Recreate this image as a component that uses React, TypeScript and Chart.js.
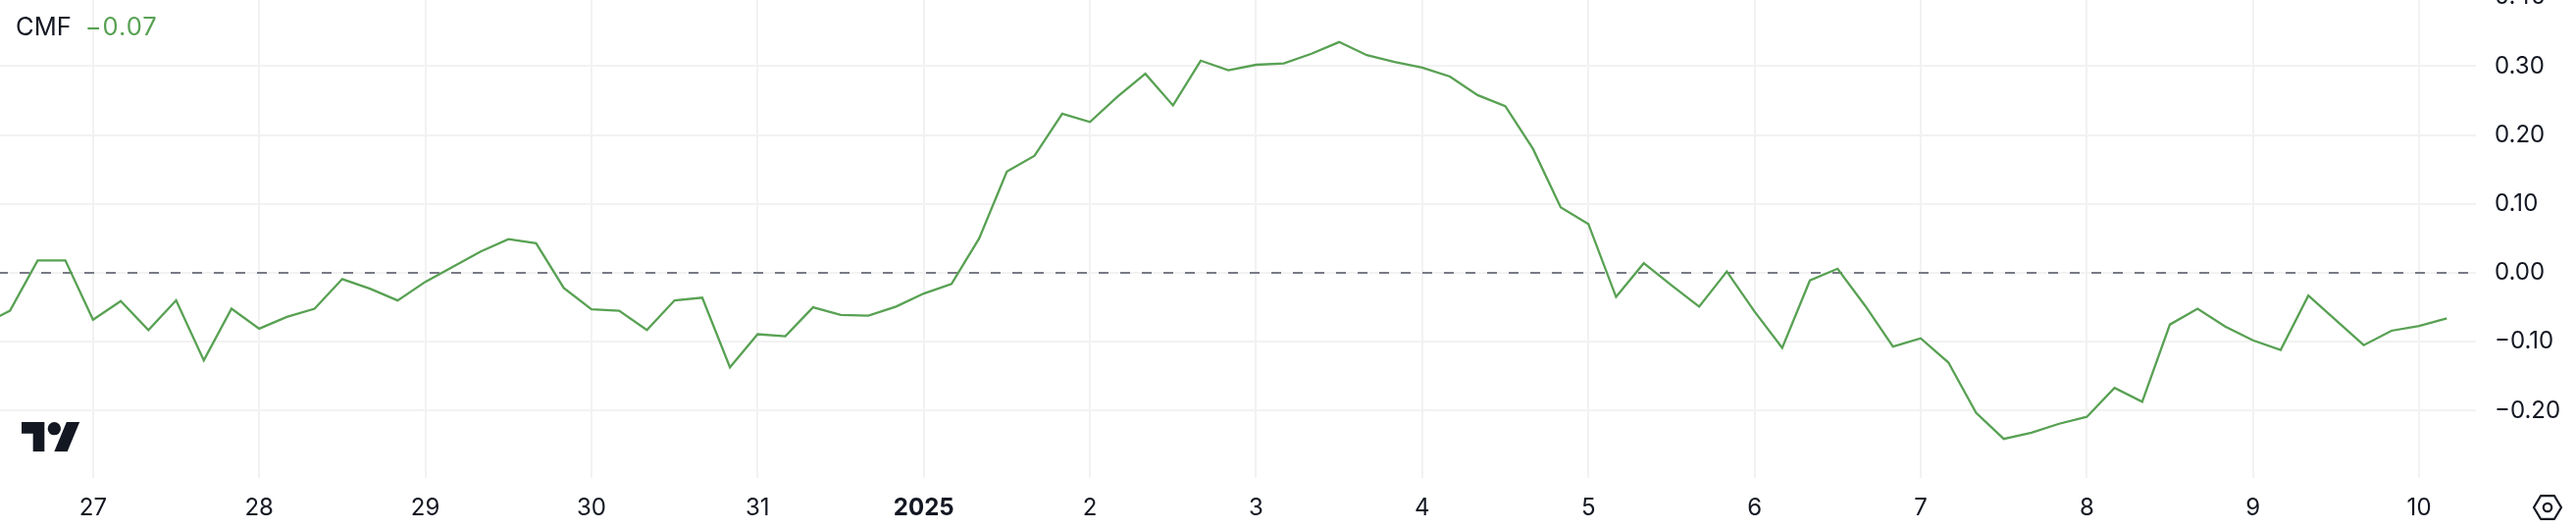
import React, { useEffect, useRef } from "react";
import { Chart, registerables } from "chart.js";

Chart.register(...registerables);

const seriesName = "CMF";
const lastValueLabel = "−0.07";

// 4-hour samples, six per day
const cmfValues = [
  -0.075, -0.055, 0.018, 0.018,
  -0.068, -0.041, -0.083, -0.040, -0.127, -0.052,
  -0.081, -0.064, -0.052, -0.009, -0.023, -0.040,
  -0.013, 0.009, 0.031, 0.049, 0.043, -0.022,
  -0.053, -0.055, -0.083, -0.040, -0.036, -0.137,
  -0.089, -0.092, -0.050, -0.061, -0.062, -0.049,
  -0.030, -0.016, 0.050, 0.147, 0.170, 0.231,
  0.219, 0.256, 0.289, 0.243, 0.308, 0.294,
  0.302, 0.304, 0.318, 0.335, 0.316, 0.306,
  0.298, 0.285, 0.258, 0.242, 0.180, 0.095,
  0.071, -0.035, 0.014, -0.018, -0.049, 0.002,
  -0.056, -0.109, -0.011, 0.006, -0.048, -0.107,
  -0.095, -0.130, -0.203, -0.241, -0.232, -0.219,
  -0.209, -0.167, -0.187, -0.075, -0.052, -0.078,
  -0.098, -0.112, -0.033, -0.069, -0.105, -0.084,
  -0.077, -0.066,
];
const samplesPerDay = 6;
const samplesBeforeFirstTick = 4;

const xTickLabels = ["27", "28", "29", "30", "31", "2025", "2", "3", "4", "5", "6", "7", "8", "9", "10"];
const boldXTickLabels = ["2025"];
const yTickValues = [0.4, 0.3, 0.2, 0.1, 0, -0.1, -0.2];
const referenceLevel = [0];

const FONT = "Inter, sans-serif";
const INK = "#131722";
const GREEN = "#58a153";
const GRID = "#f2f2f3";

const yLabel = (v: number) => (v < 0 ? "−" : "") + Math.abs(v).toFixed(2);

export default function App() {
  const ref = useRef<HTMLCanvasElement | null>(null);

  useEffect(() => {
    document.body.style.margin = "0";
    document.body.style.background = "#fff";
    const xMin = -0.56;
    const xMax = 14.342;
    const chart = new Chart(ref.current as HTMLCanvasElement, {
      type: "line",
      data: {
        datasets: [
          {
            label: seriesName,
            data: cmfValues.map((y, i) => ({ x: (i - samplesBeforeFirstTick) / samplesPerDay, y })),
            borderColor: GREEN,
            borderWidth: 2.3,
            pointRadius: 0,
            tension: 0,
          },
          {
            label: "zero",
            data: [
              { x: xMin, y: referenceLevel[0] },
              { x: xMax, y: referenceLevel[0] },
            ],
            borderColor: "#787b86",
            borderWidth: 2,
            borderDash: [10, 12],
            borderDashOffset: 2,
            pointRadius: 0,
          },
        ],
      },
      options: {
        animation: false,
        responsive: false,
        devicePixelRatio: 1,
        layout: { padding: 0 },
        plugins: { legend: { display: false }, tooltip: { enabled: false } },
        scales: {
          x: {
            type: "linear",
            min: xMin,
            max: xMax,
            afterBuildTicks: (axis: any) => {
              axis.ticks = xTickLabels.map((_, i) => ({ value: i }));
            },
            afterFit: (axis: any) => {
              axis.height = 53;
              axis.paddingLeft = 0;
              axis.paddingRight = 0;
            },
            grid: { color: GRID, lineWidth: 2, drawTicks: false },
            border: { display: false },
            ticks: {
              autoSkip: false,
              maxRotation: 0,
              padding: 16,
              color: INK,
              font: (ctx: any) => {
                const label = xTickLabels[ctx.tick?.value];
                return { family: FONT, size: 24, weight: boldXTickLabels.includes(label) ? 700 : 400 };
              },
              callback: (v: any) => xTickLabels[v],
            },
          },
          y: {
            position: "right",
            min: -0.2977,
            max: 0.4245,
            afterBuildTicks: (axis: any) => {
              axis.ticks = yTickValues.map((value) => ({ value }));
            },
            afterFit: (axis: any) => {
              axis.width = 102;
              axis.paddingTop = 0;
              axis.paddingBottom = 0;
            },
            grid: { color: GRID, lineWidth: 2, drawTicks: false },
            border: { display: false },
            ticks: {
              padding: 19,
              crossAlign: "near",
              color: INK,
              font: { family: FONT, size: 24 },
              callback: (v: any) => yLabel(Number(v)),
            },
          },
        },
      },
    } as any);
    return () => chart.destroy();
  }, []);

  return (
    <div style={{ position: "fixed", left: 0, top: 0, width: 2626, height: 540, overflow: "hidden", background: "#fff" }}>
      <canvas ref={ref} width={2626} height={560} style={{ position: "absolute", left: 0, top: -20, width: 2626, height: 560 }} />
      <div style={{ position: "absolute", left: 16, top: 12, fontFamily: FONT, fontSize: 25.5, lineHeight: "30px", whiteSpace: "pre", color: INK }}>
        {seriesName}
        <span style={{ color: GREEN, marginLeft: 14, letterSpacing: 1 }}>{lastValueLabel}</span>
      </div>
      <svg style={{ position: "absolute", left: 22, top: 430 }} width={60} height={30} viewBox="0 4 36 18">
        <path d="M14 22H7V11H0V4h14v18zM28 22h-8l7.5-18h8L28 22z" fill={INK} />
        <circle cx={20} cy={8} r={4} fill={INK} />
      </svg>
      <svg style={{ position: "absolute", left: 2581, top: 502 }} width={32} height={30} viewBox="0 0 32 30">
        <path d="M2 15 L9 3.2 H23 L30 15 L23 26.8 H9 Z" fill="none" stroke={INK} strokeWidth={2.2} strokeLinejoin="round" />
        <circle cx={16} cy={15} r={4.2} fill="none" stroke={INK} strokeWidth={2.2} />
      </svg>
    </div>
  );
}
